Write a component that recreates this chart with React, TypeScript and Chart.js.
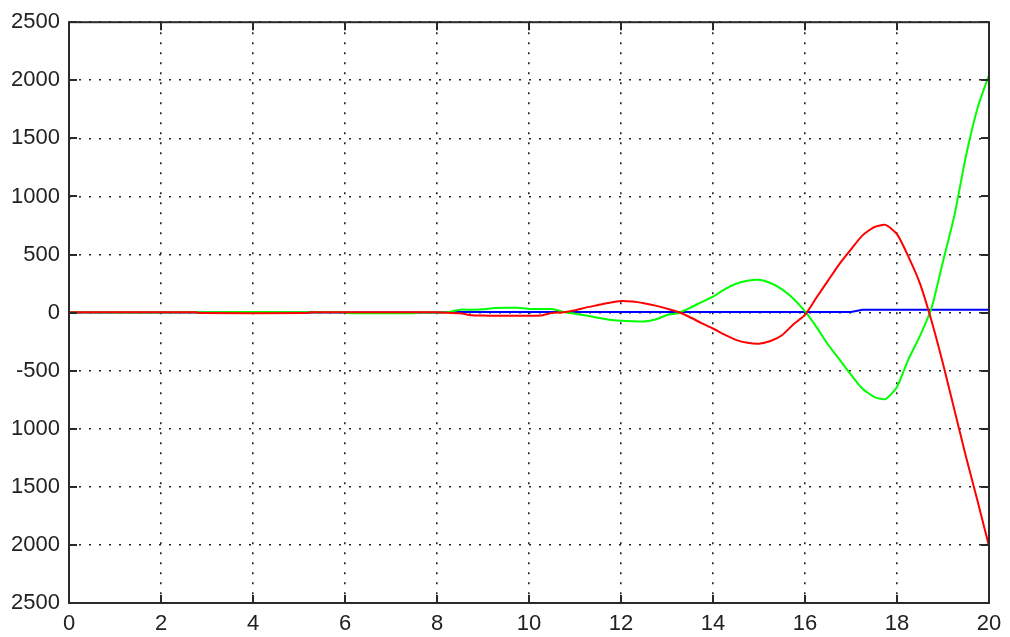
import React, { useEffect, useRef } from "react";
import { Chart, registerables } from "chart.js";

Chart.register(...registerables);

const tValues = [0, 2.75, 2.85, 5.15, 5.25, 6.0, 6.1, 7.5, 7.6, 8.0,
  8.25, 8.5, 8.75, 9.0, 9.25, 9.5, 9.75, 10.0, 10.25, 10.5, 10.75, 11.0,
  11.25, 11.5, 11.75, 12.0, 12.25, 12.5, 12.75, 13.0, 13.25, 13.5, 13.75, 14.0,
  14.25, 14.5, 14.75, 15.0, 15.25, 15.5, 15.75, 16.0, 16.25, 16.5, 16.75, 17.0,
  17.25, 17.5, 17.75, 18.0, 18.25, 18.5, 18.75, 19.0, 19.25, 19.5, 19.75, 20.0];

const redValues = [2, 2, -4, -4, 3, 3, 3, 3, 3, 2,
  -2, -5, -22, -25, -27, -28, -28, -27, -25, -3, 3, 20,
  45, 65, 85, 100, 95, 80, 60, 34, 5, -40, -90, -137,
  -190, -235, -260, -268, -245, -195, -100, -20, 130, 275, 420, 545,
  665, 735, 755, 675, 480, 250, -70, -440, -840, -1240, -1620, -2010];

const greenValues = [2, 2, 4, 4, 2, 2, -5, -5, 0, 0,
  5, 25, 25, 28, 40, 42, 42, 32, 30, 30, 5, -10,
  -25, -45, -62, -70, -75, -77, -60, -20, -3, 40, 90, 137,
  200, 248, 275, 283, 255, 200, 120, 10, -125, -275, -405, -535,
  -655, -725, -745, -640, -400, -200, 40, 440, 840, 1350, 1760, 2045];

const blueValues = [0, 0, 0, 0, 0, 0, 0, 0, 0, 0,
  5, 5, 5, 5, 5, 5, 5, 5, 5, 5, 5, 5,
  5, 5, 5, 5, 5, 5, 5, 5, 5, 5, 5, 5,
  5, 5, 5, 5, 5, 5, 5, 5, 5, 5, 5, 5,
  25, 25, 25, 25, 25, 25, 25, 25, 25, 25, 25, 25];

const xTickLabels = ["0", "2", "4", "6", "8", "10", "12", "14", "16", "18", "20"];
const yTickValues = [-2500, -2000, -1500, -1000, -500, 0, 500, 1000, 1500, 2000, 2500];
const yTickLabels = ["2500", "2000", "1500", "1000", "-500", "0", "500", "1000", "1500", "2000", "2500"];

const FONT = '"Liberation Sans Narrow", "Liberation Sans", Arial, sans-serif';

const framePlugin = {
  id: "matlabFrame",
  afterDraw(chart: any) {
    const { ctx, chartArea } = chart;
    const xs = chart.scales.x;
    const ys = chart.scales.y;
    const { left, right, top, bottom } = chartArea;
    ctx.save();
    ctx.strokeStyle = "#2a2a2a";
    ctx.lineWidth = 2;
    ctx.strokeRect(left, top, right - left, bottom - top);
    const tl = 8;
    ctx.beginPath();
    xs.ticks.forEach((t: any) => {
      const px = Math.round(xs.getPixelForValue(t.value));
      ctx.moveTo(px, bottom);
      ctx.lineTo(px, bottom - tl);
      ctx.moveTo(px, top);
      ctx.lineTo(px, top + tl);
    });
    ys.ticks.forEach((t: any) => {
      const py = Math.round(ys.getPixelForValue(t.value));
      ctx.moveTo(left, py);
      ctx.lineTo(left + tl, py);
      ctx.moveTo(right, py);
      ctx.lineTo(right - tl, py);
    });
    ctx.stroke();
    ctx.restore();
  },
};

export default function App() {
  const ref = useRef<HTMLCanvasElement | null>(null);
  useEffect(() => {
    if (!ref.current) return;
    const mk = (vals: number[]) => tValues.map((t, i) => ({ x: t, y: vals[i] }));
    const chart = new Chart(ref.current, {
      type: "line",
      data: {
        datasets: [
          { label: "red", data: mk(redValues), borderColor: "#ff0000", borderWidth: 2, pointRadius: 0, tension: 0.2, fill: false },
          { label: "green", data: mk(greenValues), borderColor: "#00ff00", borderWidth: 2, pointRadius: 0, tension: 0.2, fill: false },
          { label: "blue", data: mk(blueValues), borderColor: "#0000ff", borderWidth: 2, pointRadius: 0, tension: 0, fill: false },
        ],
      },
      options: {
        animation: false,
        responsive: false,
        events: [],
        layout: { padding: { left: 0, right: 21, top: 20, bottom: 0 } },
        plugins: { legend: { display: false }, tooltip: { enabled: false }, title: { display: false } },
        scales: {
          x: {
            type: "linear",
            min: 0,
            max: 20,
            afterFit: (s: any) => { s.height = 34; },
            afterBuildTicks: (s: any) => {
              s.ticks = xTickLabels.map((l) => ({ value: Number(l) }));
            },
            ticks: {
              autoSkip: false,
              maxRotation: 0,
              padding: 8,
              color: "#222",
              font: { family: FONT, size: 22 },
              callback: (v: any) => {
                const i = xTickLabels.indexOf(String(v));
                return i >= 0 ? xTickLabels[i] : "";
              },
            },
            grid: { color: "#222", lineWidth: 1.6, drawTicks: false },
            border: { display: false, dash: [2, 8] },
          },
          y: {
            type: "linear",
            min: -2500,
            max: 2500,
            afterFit: (s: any) => { s.width = 69; },
            afterBuildTicks: (s: any) => {
              s.ticks = yTickValues.map((v) => ({ value: v }));
            },
            ticks: {
              autoSkip: false,
              padding: 9,
              color: "#222",
              font: { family: FONT, size: 22 },
              callback: (v: any) => {
                const i = yTickValues.indexOf(Number(v));
                return i >= 0 ? yTickLabels[i] : "";
              },
            },
            grid: { color: "#222", lineWidth: 1.6, drawTicks: false },
            border: { display: false, dash: [2, 8] },
          },
        },
      },
      plugins: [framePlugin],
    });
    return () => chart.destroy();
  }, []);
  return (
    <div style={{ position: "absolute", left: 0, top: 0, width: 1010, height: 637, background: "#fff" }}>
      <canvas ref={ref} width={1010} height={637} />
    </div>
  );
}
